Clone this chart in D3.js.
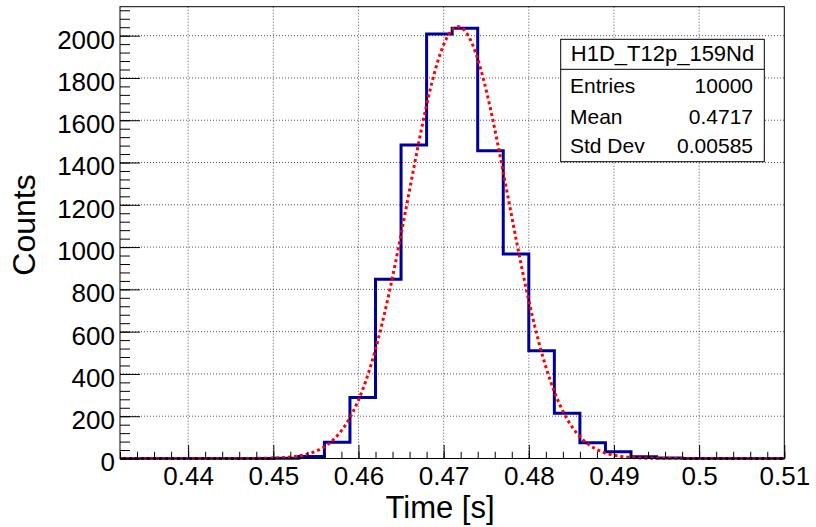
<!DOCTYPE html>
<html>
<head>
<meta charset="utf-8">
<script src="https://cdn.jsdelivr.net/npm/d3@7"></script>
<style>
  html, body { margin: 0; padding: 0; background: #fff; }
  svg { display: block; font-family: "Liberation Sans", Arial, Helvetica, sans-serif; }
</style>
</head>
<body>
<svg id="chart" width="816" height="527"></svg>
<script>
// ---- data ----
const binLow = 0.432, binWidth = 0.003, nBins = 26;
const binCounts = [0, 0, 0, 0, 0, 0, 1, 9, 77, 289, 848, 1483, 2008, 2035,
                   1456, 967, 510, 214, 75, 32, 8, 2, 0, 0, 0, 0];
const xTicks = [0.44, 0.45, 0.46, 0.47, 0.48, 0.49, 0.50, 0.51];
const xTickLabels = ["0.44", "0.45", "0.46", "0.47", "0.48", "0.49", "0.5", "0.51"];
const yTicks = [0, 200, 400, 600, 800, 1000, 1200, 1400, 1600, 1800, 2000];
const fitParams = { constant: 2042, mean: 0.4717, sigma: 0.00585 };
const statsTitle = "H1D_T12p_159Nd";
const statsLabels = ["Entries", "Mean", "Std Dev"];
const statsValues = ["10000", "0.4717", "0.00585"];
const xTitle = "Time [s]", yTitle = "Counts";

// ---- layout ----
const L = 120, R = 784.3, T = 6.7, B = 458.5;
const svg = d3.select("#chart");
const x = d3.scaleLinear().domain([binLow, binLow + nBins * binWidth]).range([L, R]);
const y = d3.scaleLinear().domain([0, 2137]).range([B, T]);

// grid
const grid = svg.append("g").attr("stroke", "#555").attr("stroke-width", 1)
  .attr("stroke-dasharray", "1,2");
grid.selectAll("line.gx").data(xTicks.filter(v => x(v) < R - 1)).join("line")
  .attr("x1", d => x(d)).attr("x2", d => x(d)).attr("y1", T).attr("y2", B);
grid.selectAll("line.gy").data(yTicks.filter(v => v > 0)).join("line")
  .attr("y1", d => y(d)).attr("y2", d => y(d)).attr("x1", L).attr("x2", R);

// histogram outline
const pts = [[x(binLow), y(0)]];
binCounts.forEach((c, i) => {
  const x0 = x(binLow + i * binWidth), x1 = x(binLow + (i + 1) * binWidth);
  pts.push([x0, y(c)], [x1, y(c)]);
});
pts.push([x(binLow + nBins * binWidth), y(0)]);
svg.append("path").attr("d", d3.line()(pts)).attr("fill", "none")
  .attr("stroke", "#000099").attr("stroke-width", 3).attr("stroke-linejoin", "miter");

// gaussian fit curve (function with fitted parameters)
const xs = d3.range(binLow, binLow + nBins * binWidth + 1e-9, 0.0002);
const gaus = v => fitParams.constant * Math.exp(-0.5 * Math.pow((v - fitParams.mean) / fitParams.sigma, 2));
svg.append("path")
  .attr("d", d3.line().x(d => x(d)).y(d => y(gaus(d)))(xs))
  .attr("fill", "none").attr("stroke", "#ff0000").attr("stroke-width", 3)
  .attr("stroke-dasharray", "3,3");

// frame
svg.append("rect").attr("x", L).attr("y", T).attr("width", R - L).attr("height", B - T)
  .attr("fill", "none").attr("stroke", "#000").attr("stroke-width", 1);

// x axis
const xMinor = d3.range(0, 40).map(i => +(binLow + i * 0.002).toFixed(4)).filter(v => v <= 0.5101);
const gxMinor = svg.append("g").attr("transform", `translate(0,${B})`)
  .call(d3.axisBottom(x).tickValues(xMinor).tickSize(-6.75).tickSizeOuter(0).tickFormat(""));
const gx = svg.append("g").attr("transform", `translate(0,${B})`)
  .call(d3.axisBottom(x).tickValues(xTicks).tickSize(-13.5).tickSizeOuter(0)
    .tickPadding(8.5).tickFormat((d, i) => xTickLabels[i]));
[gx, gxMinor].forEach(g => { g.select(".domain").remove(); g.selectAll("line").attr("stroke", "#000"); });
gx.selectAll("text").attr("font-size", 26).attr("fill", "#000")
  .attr("font-family", "Liberation Sans, Arial, sans-serif");

// y axis
const yMinor = d3.range(0, 2137, 40);
const gyMinor = svg.append("g").attr("transform", `translate(${L},0)`)
  .call(d3.axisLeft(y).tickValues(yMinor).tickSize(-10).tickSizeOuter(0).tickFormat(""));
const gy = svg.append("g").attr("transform", `translate(${L},0)`)
  .call(d3.axisLeft(y).tickValues(yTicks).tickSize(-20).tickSizeOuter(0).tickPadding(5)
    .tickFormat(d3.format("d")));
[gy, gyMinor].forEach(g => { g.select(".domain").remove(); g.selectAll("line").attr("stroke", "#000"); });
gy.selectAll("text").attr("font-size", 26).attr("fill", "#000").attr("dy", "0.48em")
  .attr("font-family", "Liberation Sans, Arial, sans-serif");

// axis titles
svg.append("text").attr("x", 440).attr("y", 518).attr("text-anchor", "middle")
  .attr("font-size", 31).text(xTitle);
svg.append("text").attr("transform", `translate(35,225) rotate(-90)`)
  .attr("text-anchor", "middle").attr("font-size", 32).text(yTitle);

// stats box
const sb = { x0: 560.7, x1: 764.3, y0: 39.3, ysep: 69.3, y1: 161.7 };
svg.append("rect").attr("x", sb.x0).attr("y", sb.y0).attr("width", sb.x1 - sb.x0)
  .attr("height", sb.y1 - sb.y0).attr("fill", "#fff").attr("stroke", "#000").attr("stroke-width", 1);
svg.append("line").attr("x1", sb.x0).attr("x2", sb.x1).attr("y1", sb.ysep).attr("y2", sb.ysep)
  .attr("stroke", "#000");
svg.append("text").attr("x", (sb.x0 + sb.x1) / 2).attr("y", 60.5).attr("text-anchor", "middle")
  .attr("font-size", 22).text(statsTitle);
const rowY = [92.7, 124, 153.3];
statsLabels.forEach((lab, i) => {
  svg.append("text").attr("x", 570).attr("y", rowY[i]).attr("font-size", 21).text(lab);
  svg.append("text").attr("x", 753).attr("y", rowY[i]).attr("text-anchor", "end")
    .attr("font-size", 21).text(statsValues[i]);
});
</script>
</body>
</html>
